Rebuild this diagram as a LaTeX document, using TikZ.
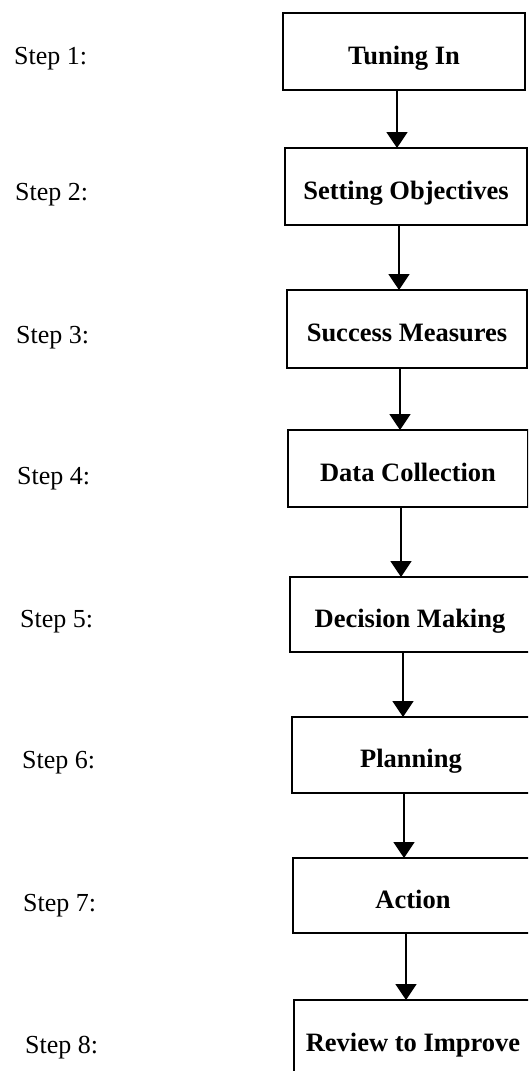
\documentclass[tikz,border=0pt]{standalone}
\usepackage{fontspec}
\setmainfont{Liberation Serif}
\usetikzlibrary{arrows.meta}
\begin{document}
\begin{tikzpicture}[x=1pt, y=-1pt,
  stepbox/.style={draw, line width=1.7pt, inner sep=0pt, outer sep=0pt,
    text height=29pt, text depth=4pt,
    font=\fontsize{26.5}{30}\selectfont\bfseries},
  steplabel/.style={anchor=west, inner sep=0pt, font=\fontsize{26}{30}\selectfont},
  flow/.style={line width=1.7pt, -{Triangle[width=21pt,length=16pt]}}]
\useasboundingbox (0,0) rectangle (528,1071);
\clip (0,0) rectangle (528,1071);

% process boxes
\node[stepbox, minimum width=242pt, minimum height=77pt] (b1) at (404,51.5)  {Tuning In};
\node[stepbox, minimum width=242pt, minimum height=77pt] (b2) at (406,186.5) {Setting Objectives};
\node[stepbox, minimum width=240pt, minimum height=78pt] (b3) at (407,329)   {Success Measures};
\node[stepbox, minimum width=240pt, minimum height=77pt] (b4) at (408,468.5) {Data Collection};
\node[stepbox, minimum width=240pt, minimum height=75pt] (b5) at (410,614.5) {Decision Making};
\node[stepbox, minimum width=238pt, minimum height=76pt] (b6) at (411,755)   {Planning};
\node[stepbox, minimum width=240pt, minimum height=75pt] (b7) at (413,895.5) {Action};
\node[stepbox, minimum width=238pt, minimum height=77pt] (b8) at (413,1038.5) {Review to Improve};

% step labels
\node[steplabel] (s1) at (14,59)   {Step 1:};
\node[steplabel] (s2) at (15,195)  {Step 2:};
\node[steplabel] (s3) at (16,338)  {Step 3:};
\node[steplabel] (s4) at (17,479)  {Step 4:};
\node[steplabel] (s5) at (20,622)  {Step 5:};
\node[steplabel] (s6) at (22,763)  {Step 6:};
\node[steplabel] (s7) at (23,906)  {Step 7:};
\node[steplabel] (s8) at (25,1048) {Step 8:};

% connectors
\foreach \a/\b in {b1/b2, b2/b3, b3/b4, b4/b5, b5/b6, b6/b7, b7/b8}
  \draw[flow] ([xshift=-7pt]\a.south) -- ([xshift=-7pt]\a.south |- \b.north);
\end{tikzpicture}
\end{document}
